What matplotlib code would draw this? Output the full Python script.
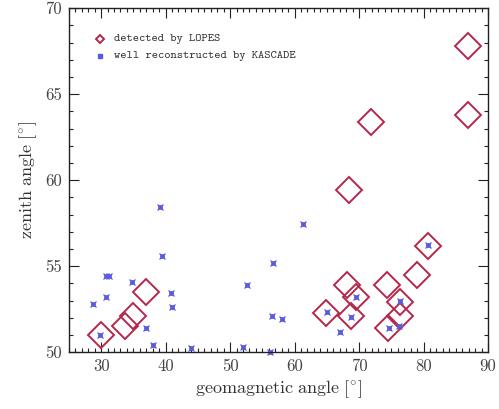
import matplotlib
matplotlib.use('Agg')
import matplotlib.pyplot as plt
from matplotlib.ticker import MultipleLocator

plt.rcParams['mathtext.fontset'] = 'cm'

# LOPES detected events (geomagnetic angle, zenith angle)
lopes_geo = [86.9, 86.9, 71.9, 68.5, 80.7, 79.0, 68.2, 74.4, 69.6, 36.9,
             76.4, 64.9, 34.9, 33.7, 68.7, 76.4, 74.5, 30.0]
lopes_zen = [67.8, 63.8, 63.4, 59.4, 56.2, 54.5, 53.9, 53.9, 53.2, 53.5,
             52.9, 52.3, 52.1, 51.5, 52.1, 52.1, 51.4, 51.0]

# KASCADE well reconstructed events
kas_geo = [28.8, 30.8, 30.8, 31.3, 34.8, 39.2, 39.4, 40.8, 41.0, 37.0, 38.1,
           44.0, 29.9, 52.0, 52.6, 56.6, 56.5, 58.0, 56.2, 61.3, 65.0, 67.0,
           68.8, 69.6, 74.7, 76.2, 76.4, 80.7]
kas_zen = [52.8, 53.2, 54.45, 54.45, 54.1, 58.45, 55.6, 53.45, 52.6, 51.4, 50.4,
           50.25, 51.0, 50.3, 53.9, 55.2, 52.1, 51.9, 50.0, 57.45, 52.35, 51.15,
           52.05, 53.2, 51.4, 51.5, 52.95, 56.25]

red = '#b5284a'
blue = '#5a5adc'

fig = plt.figure(figsize=(4.99, 4.09), dpi=100)
ax = fig.add_axes([0.138, 0.139, 0.840, 0.841])

ax.plot(lopes_geo, lopes_zen, 'D', ms=13.5, mfc='none', mec=red, mew=1.4,
        clip_on=False, linestyle='none')
ax.plot(kas_geo, kas_zen, 's', ms=3.0, mfc=blue, mec=blue, mew=0.5,
        clip_on=False, linestyle='none')
ax.plot(kas_geo, kas_zen, 'x', ms=4.2, mec=blue, mew=0.9,
        clip_on=False, linestyle='none')

ax.set_xlim(25, 90)
ax.set_ylim(50, 70)
ax.xaxis.set_major_locator(MultipleLocator(10))
ax.xaxis.set_minor_locator(MultipleLocator(1))
ax.yaxis.set_major_locator(MultipleLocator(5))
ax.yaxis.set_minor_locator(MultipleLocator(1))
ax.tick_params(which='both', direction='in', top=True, right=True,
               width=0.8, labelsize=12, colors='#222222', labelcolor='#444444')
ax.tick_params(which='major', length=7, pad=5)
ax.tick_params(which='minor', length=3)
for lab in ax.get_xticklabels() + ax.get_yticklabels():
    lab.set_family('cmr10')
for sp in ax.spines.values():
    sp.set_linewidth(1.0)
    sp.set_color('#222222')

ax.set_xlabel(r'$\mathrm{geomagnetic\ angle\ [{}^{\circ}]}$', fontsize=13,
              color='#333333', labelpad=3)
ax.set_ylabel(r'$\mathrm{zenith\ angle\ [{}^{\circ}]}$', fontsize=13,
              color='#333333', labelpad=4)

# legend drawn by hand, IDL style
ax.plot([29.9], [68.2], 'D', ms=4, mfc='none', mec=red, mew=1.4)
ax.plot([29.9], [67.2], 's', ms=3.2, mfc=blue, mec=blue)
ax.text(32.0, 68.2, 'detected by LOPES', family='cmtt10', fontsize=8.6,
        va='center', color='#333333')
ax.text(32.0, 67.2, 'well reconstructed by KASCADE', family='cmtt10',
        fontsize=8.6, va='center', color='#333333')

fig.savefig('out.png', dpi=100)
